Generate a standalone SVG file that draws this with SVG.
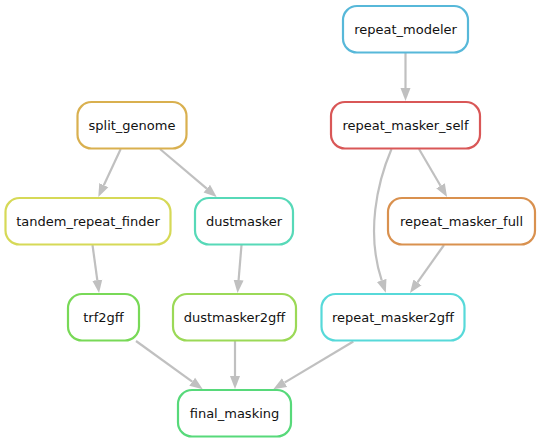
<svg xmlns="http://www.w3.org/2000/svg" width="540" height="443" viewBox="0 0 540 443">
<style>
.node rect{fill:#ffffff;stroke-width:2.2}
.node text{font-family:"DejaVu Sans",sans-serif;font-size:13px;fill:#111111;text-anchor:middle}
#edges path{fill:none;stroke:#c0c0c0;stroke-width:2.2}
</style>
<defs>
<marker id="arr" markerUnits="userSpaceOnUse" markerWidth="14" markerHeight="12" refX="0" refY="5" orient="auto" viewBox="0 0 14 10">
<path d="M0,0 L13,5 L0,10 Z" fill="#c0c0c0"/>
</marker>
</defs>
<rect width="540" height="443" fill="#ffffff"/>
<g id="edges">
<path d="M405.5,53 L405.5,88" marker-end="url(#arr)"/>
<path d="M419,149 L440.5,185.8" marker-end="url(#arr)"/>
<path d="M391.5,149 C377,183 366,233 381.7,280.4" marker-end="url(#arr)"/>
<path d="M444,245 L417.5,282.4" marker-end="url(#arr)"/>
<path d="M120.7,149 L103.8,185.2" marker-end="url(#arr)"/>
<path d="M160,149 L206.8,188.6" marker-end="url(#arr)"/>
<path d="M92.5,245 L97.3,280.1" marker-end="url(#arr)"/>
<path d="M241.5,245 L238.6,280" marker-end="url(#arr)"/>
<path d="M136,341 L192.2,381.7" marker-end="url(#arr)"/>
<path d="M235,341 L235,376" marker-end="url(#arr)"/>
<path d="M353.3,341.5 L284.5,382.6" marker-end="url(#arr)"/>
</g>
<g id="repeat_modeler" class="node"><rect x="343" y="6" width="125" height="46.5" rx="14" stroke="#57b8d9"/><text x="405.5" y="33.5">repeat_modeler</text></g>
<g id="repeat_masker_self" class="node"><rect x="331" y="102" width="149" height="46.5" rx="14" stroke="#d95757"/><text x="405.5" y="129.5">repeat_masker_self</text></g>
<g id="repeat_masker_full" class="node"><rect x="388" y="198" width="147" height="46.5" rx="14" stroke="#d9914f"/><text x="461.5" y="225.5">repeat_masker_full</text></g>
<g id="split_genome" class="node"><rect x="77.5" y="102" width="109" height="46.5" rx="14" stroke="#d9b04f"/><text x="132" y="129.5">split_genome</text></g>
<g id="tandem_repeat_finder" class="node"><rect x="5.5" y="198" width="165" height="46.5" rx="14" stroke="#d6d957"/><text x="88" y="225.5">tandem_repeat_finder</text></g>
<g id="dustmasker" class="node"><rect x="195" y="198" width="98" height="46.5" rx="14" stroke="#57d9b8"/><text x="244" y="225.5">dustmasker</text></g>
<g id="trf2gff" class="node"><rect x="68" y="294" width="71" height="46.5" rx="14" stroke="#78d957"/><text x="103.5" y="321.5">trf2gff</text></g>
<g id="dustmasker2gff" class="node"><rect x="173" y="294" width="123" height="46.5" rx="14" stroke="#9bd957"/><text x="234.5" y="321.5">dustmasker2gff</text></g>
<g id="repeat_masker2gff" class="node"><rect x="321.5" y="294" width="143" height="46.5" rx="14" stroke="#57d9d9"/><text x="393" y="321.5">repeat_masker2gff</text></g>
<g id="final_masking" class="node"><rect x="178" y="390" width="113" height="46.5" rx="14" stroke="#57d97a"/><text x="234.5" y="417.5">final_masking</text></g>
</svg>
